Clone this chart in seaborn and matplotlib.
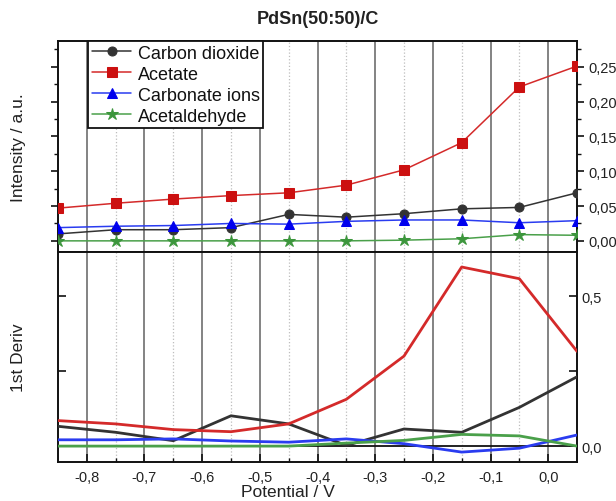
import numpy as np
import pandas as pd
import matplotlib
matplotlib.use("Agg")
import matplotlib.pyplot as plt
import seaborn as sns
from matplotlib.ticker import FuncFormatter, MultipleLocator, FixedLocator

sns.set_theme(style="white")
plt.rcParams['font.family'] = ['Liberation Sans', 'DejaVu Sans']

potential = [-0.85, -0.75, -0.65, -0.55, -0.45, -0.35, -0.25, -0.15, -0.05, 0.05]
series_names = ["Carbon dioxide", "Acetate", "Carbonate ions", "Acetaldehyde"]

# Intensity (top panel)
co2_int = [0.010, 0.016, 0.016, 0.019, 0.038, 0.034, 0.039, 0.046, 0.048, 0.069]
acetate_int = [0.047, 0.054, 0.060, 0.065, 0.069, 0.080, 0.102, 0.141, 0.221, 0.251]
carbonate_int = [0.019, 0.021, 0.022, 0.025, 0.024, 0.028, 0.030, 0.030, 0.026, 0.029]
acetaldehyde_int = [0.000, 0.000, 0.000, 0.000, 0.000, 0.000, 0.001, 0.003, 0.009, 0.008]

# 1st derivative (bottom panel)
co2_der = [0.066, 0.046, 0.018, 0.101, 0.074, 0.002, 0.057, 0.046, 0.129, 0.231]
acetate_der = [0.085, 0.074, 0.055, 0.048, 0.074, 0.156, 0.300, 0.597, 0.558, 0.316]
carbonate_der = [0.021, 0.021, 0.024, 0.017, 0.013, 0.024, 0.008, -0.020, -0.007, 0.037]
acetaldehyde_der = [0.000, 0.000, 0.000, 0.000, 0.000, 0.010, 0.019, 0.039, 0.034, 0.000]

colors = {"Carbon dioxide": "#333333", "Acetate": "#d42a2a",
          "Carbonate ions": "#2a3cf0", "Acetaldehyde": "#4aa04a"}
markers = {"Carbon dioxide": "o", "Acetate": "s",
           "Carbonate ions": "^", "Acetaldehyde": "*"}
marker_fc = {"Carbon dioxide": "#333333", "Acetate": "#cc1010",
             "Carbonate ions": "#0000ee", "Acetaldehyde": "#3c963c"}
marker_sz = {"Carbon dioxide": 6.5, "Acetate": 6.5,
             "Carbonate ions": 7.0, "Acetaldehyde": 9.0}

top_vals = [co2_int, acetate_int, carbonate_int, acetaldehyde_int]
bot_vals = [co2_der, acetate_der, carbonate_der, acetaldehyde_der]

df_top = pd.DataFrame({
    "Potential": potential * 4,
    "value": sum(top_vals, []),
    "series": sum([[n] * len(potential) for n in series_names], []),
})
df_bot = pd.DataFrame({
    "Potential": potential * 4,
    "value": sum(bot_vals, []),
    "series": sum([[n] * len(potential) for n in series_names], []),
})

fig = plt.figure(figsize=(6.16, 5.02), dpi=100)
W, H = 616, 502
L, R = 58, 577
ax1 = fig.add_axes([L / W, (H - 253) / H, (R - L) / W, (253 - 42) / H])
ax2 = fig.add_axes([L / W, (H - 463) / H, (R - L) / W, (463 - 253) / H], sharex=ax1)

for ax in (ax1, ax2):
    ax.set_xlim(-0.85, 0.05)
    ax.xaxis.set_major_locator(FixedLocator([-0.8, -0.7, -0.6, -0.5, -0.4, -0.3, -0.2, -0.1, 0.0]))
    ax.xaxis.set_minor_locator(FixedLocator([-0.75, -0.65, -0.55, -0.45, -0.35, -0.25, -0.15, -0.05]))
    ax.grid(which='major', axis='x', color='#6e6e6e', linestyle='-', linewidth=1.2, zorder=0)
    ax.grid(which='minor', axis='x', color='#bdbdbd', linestyle=':', linewidth=0.9, zorder=0)
    ax.set_axisbelow(True)
    for s in ax.spines.values():
        s.set_color('#111111')
        s.set_linewidth(1.4)

# Top panel
for n in series_names:
    d = df_top[df_top.series == n]
    sns.lineplot(data=d, x="Potential", y="value", ax=ax1, color=colors[n],
                 marker=markers[n], markersize=marker_sz[n],
                 markerfacecolor=marker_fc[n], markeredgecolor=marker_fc[n],
                 linewidth=1.1, label=n, zorder=3)
ax1.set_ylim(-0.016, 0.287)
ax1.yaxis.set_major_locator(MultipleLocator(0.05))
ax1.yaxis.set_minor_locator(MultipleLocator(0.025))
ax1.yaxis.set_major_formatter(FuncFormatter(lambda v, p: ("%.3f" % v).replace('.', ',').replace('-0,000', '0,000')))
ax1.tick_params(axis='y', which='both', left=True, right=True, labelleft=False, labelright=True,
                direction='out', color='#111111', labelsize=10.5, labelcolor='#222222')
ax1.tick_params(axis='y', which='major', length=5, width=1.2)
ax1.tick_params(axis='y', which='minor', length=3, width=1.0)
ax1.tick_params(axis='x', which='both', bottom=False, labelbottom=False)
ax1.set_xlabel("")
ax1.set_ylabel("Intensity / a.u.", fontsize=12.5, color='#222222')
ax1.yaxis.set_label_coords(-0.062, 0.5)
ax1.set_title("PdSn(50:50)/C", fontsize=13, fontweight='bold', pad=13, color='#222222')
leg = ax1.legend(loc='upper left', bbox_to_anchor=(0.058, 1.0), frameon=True, fancybox=False,
                 edgecolor='#111111', framealpha=1, fontsize=13, handlelength=2.2,
                 handletextpad=0.35, borderpad=0.2, labelspacing=0.22, borderaxespad=0)
leg.get_frame().set_linewidth(1.3)
for t in leg.get_texts():
    t.set_color('#111111')

# Bottom panel
ax2.axhline(0, color='#111111', linewidth=1.3, zorder=2)
for n in series_names:
    d = df_bot[df_bot.series == n]
    sns.lineplot(data=d, x="Potential", y="value", ax=ax2, color=colors[n],
                 linewidth=2.0, legend=False, zorder=3)
ax2.set_ylim(-0.053, 0.647)
ax2.yaxis.set_major_locator(FixedLocator([0.0, 0.25, 0.5]))
ax2.yaxis.set_major_formatter(FuncFormatter(lambda v, p: {0.0: "0,0", 0.5: "0,5"}.get(round(v, 2), "")))
ax2.tick_params(axis='y', which='both', left=True, right=True, labelleft=False, labelright=True,
                direction='in', length=6, width=1.2, color='#111111', labelsize=10.5, labelcolor='#222222')
ax2.xaxis.set_major_formatter(FuncFormatter(lambda v, p: ("%.1f" % v).replace('.', ',').replace('-0,0', '0,0')))
ax2.tick_params(axis='x', which='major', bottom=True, direction='in', length=6, width=1.2,
                color='#111111', labelsize=10.5, labelcolor='#222222', pad=6)
ax2.tick_params(axis='x', which='minor', bottom=True, direction='in', length=3, width=1.0, color='#111111')
ax2.set_xlabel("Potential / V", fontsize=12.5, color='#222222')
ax2.xaxis.set_label_coords(0.443, -0.105)
ax2.set_ylabel("1st Deriv", fontsize=12.5, color='#222222')
ax2.yaxis.set_label_coords(-0.062, 0.5)

fig.savefig("out.png", dpi=100)
